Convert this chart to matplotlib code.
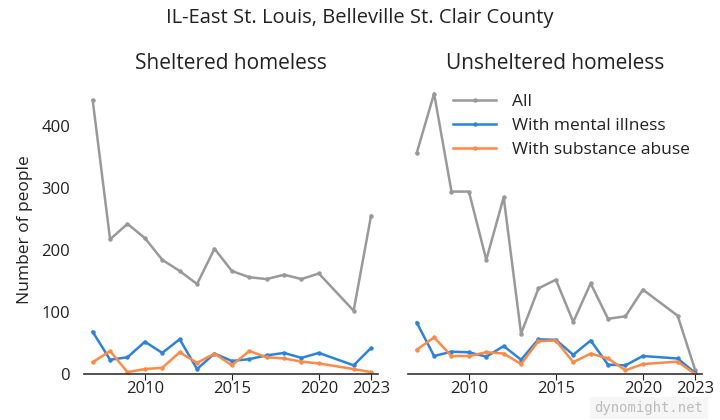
import matplotlib.pyplot as plt

years = [2007, 2008, 2009, 2010, 2011, 2012, 2013, 2014, 2015, 2016,
         2017, 2018, 2019, 2020, 2022, 2023]

# sheltered
sh_all = [441, 217, 242, 219, 184, 166, 145, 202, 166, 156, 153, 160, 153, 162, 102, 255]
sh_mental = [68, 23, 27, 52, 34, 56, 8, 33, 21, 24, 30, 34, 26, 34, 14, 42]
sh_subst = [19, 37, 3, 8, 10, 35, 18, 33, 14, 37, 27, 25, 20, 17, 8, 3]

# unsheltered
un_all = [356, 452, 294, 294, 184, 285, 65, 138, 152, 84, 146, 89, 93, 136, 94, 7]
un_mental = [83, 29, 36, 35, 28, 45, 23, 56, 55, 31, 54, 15, 14, 29, 25, 2]
un_subst = [39, 59, 29, 29, 35, 33, 16, 53, 54, 19, 33, 25, 6, 16, 20, 0]

panels = [("Sheltered homeless", sh_all, sh_mental, sh_subst),
          ("Unsheltered homeless", un_all, un_mental, un_subst)]
labels = ["All", "With mental illness", "With substance abuse"]
colors = ["#999999", "#2b83e0", "#ff8a45"]
xticks = [2010, 2015, 2020, 2023]

plt.rcParams['font.family'] = ['Open Sans', 'DejaVu Sans']
txt = "#222222"

fig = plt.figure(figsize=(7.2, 4.2), dpi=100)
fig.suptitle("IL-East St. Louis, Belleville St. Clair County", fontsize=14.5, color=txt, y=0.98)

lefts = [84 / 720, 408 / 720]
for i, (title, a, m, s) in enumerate(panels):
    ax = fig.add_axes([lefts[i], 0.1095, 294 / 720, 0.687])
    for vals, lab, c in zip([a, m, s], labels, colors):
        ax.plot(years, vals, color=c, lw=1.8, marker='o', ms=2.2, label=lab)
    ax.set_xlim(2006.5, 2023.4)
    ax.set_ylim(0, 465)
    ax.set_xticks(xticks)
    ax.set_yticks([0, 100, 200, 300, 400])
    ax.set_title(title, fontsize=15, color=txt, pad=12)
    for sp in ['top', 'right', 'left']:
        ax.spines[sp].set_visible(False)
    ax.spines['bottom'].set_color('#333333')
    ax.spines['bottom'].set_linewidth(1.2)
    ax.tick_params(axis='x', colors=txt, labelsize=12, length=4, pad=1)
    ax.tick_params(axis='y', colors=txt, labelsize=12, length=0, pad=10)
    if i == 0:
        ax.set_ylabel("Number of people", fontsize=12.5, color=txt, labelpad=6)
    else:
        ax.set_yticklabels([])
        ax.legend(loc='upper left', bbox_to_anchor=(0.1, 1.025), frameon=False,
                  fontsize=12.5, handlelength=2.5, labelspacing=0.45,
                  handletextpad=0.9, labelcolor=txt)

fig.text(0.977, 0.012, "dynomight.net", family='DejaVu Sans Mono', fontsize=10,
         color='#bbbbbb', ha='right', va='bottom',
         bbox=dict(facecolor='#f6f6f6', edgecolor='none', pad=3))

plt.savefig("out.png", dpi=100)
